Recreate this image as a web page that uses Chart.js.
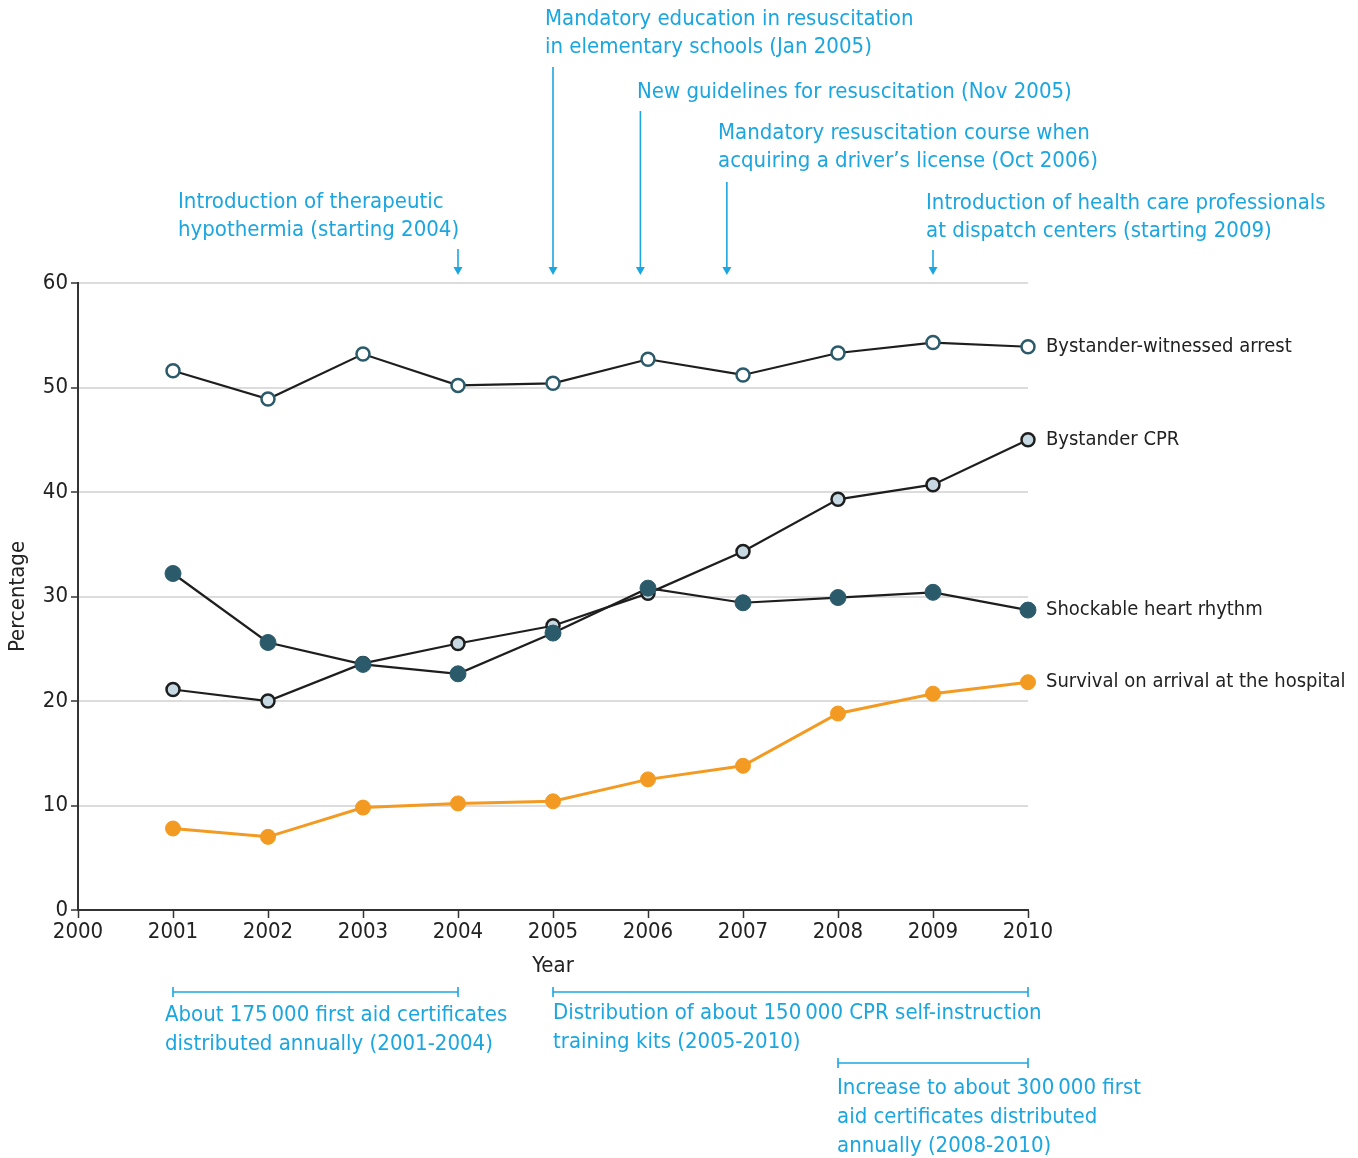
<!DOCTYPE html>
<html>
<head>
<meta charset="utf-8">
<script src="https://cdn.jsdelivr.net/npm/chart.js@4.4.1/dist/chart.umd.min.js"></script>
<style>
  html, body { margin: 0; padding: 0; background: #fff; }
  #wrap { width: 1358px; height: 1158px; position: relative; }
</style>
</head>
<body>
<div id="wrap"><canvas id="myChart"></canvas></div>
<script>
// --- data ---
const years = [2001, 2002, 2003, 2004, 2005, 2006, 2007, 2008, 2009, 2010];
const witnessed = [51.6, 48.9, 53.2, 50.2, 50.4, 52.7, 51.2, 53.3, 54.3, 53.9];
const bystanderCpr = [21.1, 20.0, 23.6, 25.5, 27.2, 30.3, 34.3, 39.3, 40.7, 45.0];
const shockable = [32.2, 25.6, 23.5, 22.6, 26.5, 30.8, 29.4, 29.9, 30.4, 28.7];
const survival = [7.8, 7.0, 9.8, 10.2, 10.4, 12.5, 13.8, 18.8, 20.7, 21.8];

const xTicks = [2000, 2001, 2002, 2003, 2004, 2005, 2006, 2007, 2008, 2009, 2010];
const yTicks = [0, 10, 20, 30, 40, 50, 60];

const seriesLabels = ['Bystander-witnessed arrest', 'Bystander CPR', 'Shockable heart rhythm', 'Survival on arrival at the hospital'];

// events above the plot: year the arrow points to, text lines
const eventYears = [2004, 2005, 2005.92, 2006.83, 2009];
const eventTexts = [
    ['Introduction of therapeutic', 'hypothermia (starting 2004)'],
    ['Mandatory education in resuscitation', 'in elementary schools (Jan 2005)'],
    ['New guidelines for resuscitation (Nov 2005)'],
    ['Mandatory resuscitation course when', 'acquiring a driver\u2019s license (Oct 2006)'],
    ['Introduction of health care professionals', 'at dispatch centers (starting 2009)']
];

// periods below the plot
const periodStart = [2001, 2005, 2008];
const periodEnd = [2004, 2010, 2010];
const periodTexts = [
    ['About 175\u2009000 first aid certificates', 'distributed annually (2001-2004)'],
    ['Distribution of about 150\u2009000 CPR self-instruction', 'training kits (2005-2010)'],
    ['Increase to about 300\u2009000 first', 'aid certificates distributed', 'annually (2008-2010)']
];

const FONT = '"DejaVu Sans Condensed", "DejaVu Sans", sans-serif';
const BLUE = '#1ba6df';
const TEAL = '#2b5b6b';
const LIGHT = '#c6d9e3';
const ORANGE = '#f39a22';
const INK = '#222222';

function pts(arr) {
    return arr.map((v, i) => ({ x: years[i], y: v }));
}

// layout for annotation text (pixel offsets only)
const eventLayout = [
    { textX: 178, textY: 202, arrowTop: 249 },
    { textX: 545, textY: 19, arrowTop: 67 },
    { textX: 637, textY: 92, arrowTop: 111 },
    { textX: 718, textY: 133, arrowTop: 182 },
    { textX: 926, textY: 203, arrowTop: 250 }
];
const periodLayout = [
    { lineY: 992, textX: 165, textY: 1015 },
    { lineY: 992, textX: 553, textY: 1013 },
    { lineY: 1063, textX: 837, textY: 1088 }
];

const annotations = {
    id: 'annotations',
    afterDraw(chart) {
        const ctx = chart.ctx;
        const xs = chart.scales.x;
        const ys = chart.scales.y;
        const area = chart.chartArea;
        ctx.save();

        // series labels at the right end
        ctx.font = '20px ' + FONT;
        ctx.fillStyle = INK;
        ctx.textAlign = 'left';
        ctx.textBaseline = 'middle';
        chart.data.datasets.forEach(ds => {
            const last = ds.data[ds.data.length - 1];
            ctx.fillText(ds.label, xs.getPixelForValue(last.x) + 18, ys.getPixelForValue(last.y));
        });

        // axis titles
        ctx.font = '22px ' + FONT;
        ctx.textAlign = 'center';
        ctx.fillText('Year', xs.getPixelForValue(2005), 966);
        ctx.save();
        ctx.translate(18, (area.top + area.bottom) / 2);
        ctx.rotate(-Math.PI / 2);
        ctx.fillText('Percentage', 0, 0);
        ctx.restore();

        // event arrows and texts
        ctx.fillStyle = BLUE;
        ctx.strokeStyle = BLUE;
        ctx.font = '22px ' + FONT;
        ctx.textAlign = 'left';
        eventYears.forEach((yr, i) => {
            const lay = eventLayout[i];
            eventTexts[i].forEach((line, j) => {
                ctx.fillText(line, lay.textX, lay.textY + j * 28.5);
            });
            const ax = xs.getPixelForValue(yr);
            const tip = area.top - 8;
            ctx.lineWidth = 1.6;
            ctx.beginPath();
            ctx.moveTo(ax, lay.arrowTop);
            ctx.lineTo(ax, tip - 6);
            ctx.stroke();
            ctx.beginPath();
            ctx.moveTo(ax - 4.5, tip - 8);
            ctx.lineTo(ax + 4.5, tip - 8);
            ctx.lineTo(ax, tip);
            ctx.closePath();
            ctx.fill();
        });

        // period brackets and texts
        periodStart.forEach((s, i) => {
            const lay = periodLayout[i];
            const x0 = xs.getPixelForValue(s);
            const x1 = xs.getPixelForValue(periodEnd[i]);
            ctx.lineWidth = 1.6;
            ctx.beginPath();
            ctx.moveTo(x0, lay.lineY);
            ctx.lineTo(x1, lay.lineY);
            ctx.moveTo(x0, lay.lineY - 5);
            ctx.lineTo(x0, lay.lineY + 5);
            ctx.moveTo(x1, lay.lineY - 5);
            ctx.lineTo(x1, lay.lineY + 5);
            ctx.stroke();
            periodTexts[i].forEach((line, j) => {
                ctx.fillText(line, lay.textX, lay.textY + j * 29);
            });
        });

        ctx.restore();
    }
};

const ctx = document.getElementById('myChart').getContext('2d');
const myChart = new Chart(ctx, {
    type: 'line',
    data: {
        datasets: [{
            label: seriesLabels[0],
            data: pts(witnessed),
            borderColor: '#1e1e1e',
            borderWidth: 2.2,
            pointBackgroundColor: '#ffffff',
            pointBorderColor: TEAL,
            pointBorderWidth: 2.5,
            pointRadius: 6.5,
            order: 3
        },
        {
            label: seriesLabels[1],
            data: pts(bystanderCpr),
            borderColor: '#1e1e1e',
            borderWidth: 2.2,
            pointBackgroundColor: LIGHT,
            pointBorderColor: '#1e1e1e',
            pointBorderWidth: 2.5,
            pointRadius: 6.5,
            order: 2
        },
        {
            label: seriesLabels[2],
            data: pts(shockable),
            borderColor: '#1e1e1e',
            borderWidth: 2.2,
            pointBackgroundColor: TEAL,
            pointBorderColor: TEAL,
            pointBorderWidth: 1,
            pointRadius: 8,
            order: 1
        },
        {
            label: seriesLabels[3],
            data: pts(survival),
            borderColor: ORANGE,
            borderWidth: 3,
            pointBackgroundColor: ORANGE,
            pointBorderColor: ORANGE,
            pointBorderWidth: 1,
            pointRadius: 7.5,
            order: 0
        }]
    },
    options: {
        responsive: true,
        maintainAspectRatio: false,
        animation: false,
        clip: false,
        layout: { autoPadding: false, padding: { left: 0, top: 283, right: 330, bottom: 0 } },
        plugins: { legend: { display: false }, tooltip: { enabled: false } },
        scales: {
            x: {
                type: 'linear',
                min: 2000,
                max: 2010,
                afterBuildTicks: s => { s.ticks = xTicks.map(v => ({ value: v })); },
                afterFit: s => { s.height = 248; },
                ticks: {
                    color: INK,
                    font: { family: FONT, size: 22 },
                    padding: 1,
                    maxRotation: 0,
                    callback: v => String(v)
                },
                grid: { drawOnChartArea: false, drawTicks: true, tickLength: 8, tickColor: '#333', tickWidth: 1.5 },
                border: { color: '#333', width: 2 }
            },
            y: {
                min: 0,
                max: 60,
                afterBuildTicks: s => { s.ticks = yTicks.map(v => ({ value: v })); },
                afterFit: s => { s.width = 78; },
                ticks: {
                    color: INK,
                    font: { family: FONT, size: 22 },
                    padding: 3
                },
                grid: {
                    color: c => (c.tick && c.tick.value === 0) ? 'rgba(0,0,0,0)' : '#dcdcdc',
                    lineWidth: 2,
                    tickLength: 7,
                    tickColor: '#333',
                    tickWidth: 1.5
                },
                border: { color: '#333', width: 2 }
            }
        }
    },
    plugins: [annotations]
});
</script>
</body>
</html>
